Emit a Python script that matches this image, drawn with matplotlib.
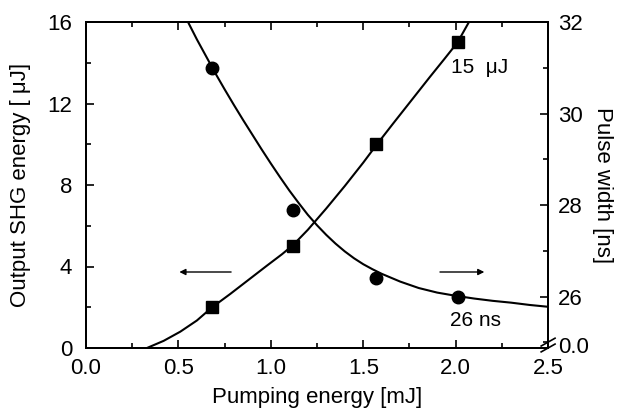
import matplotlib
matplotlib.use("Agg")
import matplotlib.pyplot as plt
from matplotlib.ticker import MultipleLocator

plt.rcParams['font.family'] = ['Liberation Sans', 'DejaVu Sans']

# data points
pump_sq = [0.68, 1.12, 1.57, 2.01]
shg_energy = [2.0, 5.0, 10.0, 15.0]
pump_ci = [0.68, 1.12, 1.57, 2.01]
pulse_width = [31.0, 27.9, 26.4, 26.0]

# fitted curves
fit_shg_x = [0.33, 0.42, 0.51, 0.60, 0.68, 0.78, 0.88, 0.98, 1.06, 1.12, 1.20, 1.30,
             1.40, 1.50, 1.57, 1.66, 1.76, 1.86, 1.94, 2.01, 2.078]
fit_shg_y = [0.0, 0.35, 0.8, 1.35, 1.98, 2.65, 3.35, 4.05, 4.6, 5.05, 5.8, 6.85,
             7.95, 9.1, 9.95, 11.0, 12.15, 13.3, 14.2, 15.0, 16.1]
fit_pw_x = [0.552, 0.60, 0.65, 0.70, 0.75, 0.80, 0.85, 0.90, 0.95, 1.00, 1.05, 1.10,
            1.15, 1.20, 1.25, 1.30, 1.35, 1.40, 1.45, 1.50, 1.55, 1.60, 1.70, 1.80,
            1.90, 2.00, 2.10, 2.20, 2.30, 2.40, 2.50]
fit_pw_y = [32.0, 31.62, 31.25, 30.88, 30.53, 30.19, 29.86, 29.54, 29.22, 28.91, 28.61,
            28.32, 28.05, 27.79, 27.56, 27.35, 27.16, 26.99, 26.84, 26.71, 26.60, 26.50,
            26.33, 26.19, 26.09, 26.02, 25.96, 25.91, 25.87, 25.82, 25.78]

fig = plt.figure(figsize=(6.3, 4.16), dpi=100)
ax = fig.add_axes([0.1365, 0.1635, 0.7335, 0.7835])
ax2 = ax.twinx()

fs = 16
ax.plot(fit_shg_x, fit_shg_y, color='black', lw=1.5)
ax.plot(pump_sq, shg_energy, 's', color='black', ms=8)
ax2.plot(fit_pw_x, fit_pw_y, color='black', lw=1.5)
ax2.plot(pump_ci, pulse_width, 'o', color='black', ms=9)

ax.set_xlim(0, 2.5)
ax.set_ylim(0, 16)
ax2.set_ylim(24.88, 32)

ax.xaxis.set_major_locator(MultipleLocator(0.5))
ax.xaxis.set_minor_locator(MultipleLocator(0.25))
ax.yaxis.set_major_locator(MultipleLocator(4))
ax.yaxis.set_minor_locator(MultipleLocator(2))
ax2.set_yticks([26, 28, 30, 32])
ax2.yaxis.set_minor_locator(MultipleLocator(1))

ax.set_xticklabels([f"{v:.1f}" for v in ax.get_xticks()])

ax.tick_params(axis='both', which='both', direction='in', top=True, labelsize=fs, width=1.2)
ax.tick_params(which='major', length=6)
ax.tick_params(which='minor', length=3.5)
ax.tick_params(axis='x', which='major', pad=7)
ax.tick_params(axis='y', which='major', pad=10)
ax2.tick_params(axis='y', which='both', direction='in', labelsize=fs, width=1.2)
ax2.tick_params(which='major', length=6, pad=7)
ax2.tick_params(which='minor', length=3.5)

for a in (ax, ax2):
    for s in a.spines.values():
        s.set_linewidth(1.4)

ax.set_xlabel('Pumping energy [mJ]', fontsize=fs, labelpad=6)
ax.set_ylabel('Output SHG energy [ μJ]', fontsize=fs, labelpad=12)
ax2.set_ylabel('Pulse width [ns]', fontsize=fs, rotation=270, labelpad=22)

# annotations
ax.text(1.975, 13.75, '15  μJ', fontsize=15, ha='left', va='center')
ax.text(1.97, 1.35, '26 ns', fontsize=15, ha='left', va='center')
ax.annotate('', xy=(0.49, 3.73), xytext=(0.80, 3.73),
            arrowprops=dict(arrowstyle='-|>', color='black', lw=1.0, mutation_scale=9))
ax.annotate('', xy=(2.17, 3.73), xytext=(1.90, 3.73),
            arrowprops=dict(arrowstyle='-|>', color='black', lw=1.0, mutation_scale=9))

# axis break marks at bottom right
for dy in (0.0, 0.018):
    ax.plot([0.985, 1.015], [dy - 0.012, dy + 0.012], transform=ax.transAxes,
            color='black', lw=1.2, clip_on=False)
ax.text(1.022, 0.0, '0.0', transform=ax.transAxes, fontsize=fs, ha='left', va='center')

fig.savefig('out.png', dpi=100)
